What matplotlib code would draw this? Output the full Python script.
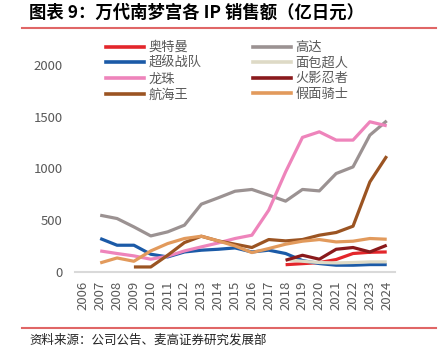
"""万代南梦宫各 IP 销售额"""
import numpy as np
import matplotlib
matplotlib.use("Agg")
import matplotlib.pyplot as plt
from matplotlib.lines import Line2D

plt.rcParams['font.family'] = ['Noto Sans CJK SC', 'DejaVu Sans']

years = list(range(2006, 2025))
nan = np.nan

ultraman = [nan]*12 + [70, 80, 90, 120, 178, 190, 193]
gundam = [nan, 548, 516, 435, 348, 387, 452, 655, 716, 780, 797, 742, 684, 797, 783, 951, 1015, 1322, 1460]
sentai = [nan, 323, 258, 258, 171, 145, 193, 210, 219, 232, 193, 210, 178, 110, 81, 65, 65, 71, 71]
anpanman = [nan]*12 + [120, 103, 91, 87, 91, 97, 97]
dragonball = [nan, 203, 178, 155, 123, 152, 203, 242, 280, 323, 355, 597, 967, 1300, 1354, 1274, 1274, 1451, 1412]
naruto = [nan]*12 + [113, 161, 123, 219, 236, 193, 258]
onepiece = [nan, nan, nan, 48, 48, 161, 284, 345, 300, 268, 236, 313, 300, 313, 355, 381, 442, 870, 1119]
kamenrider = [nan, 87, 135, 103, 203, 274, 323, 345, 300, 251, 187, 226, 268, 297, 313, 290, 297, 323, 316]

series = [
    ("奥特曼", ultraman, "#e3262b"),
    ("高达", gundam, "#9b9292"),
    ("超级战队", sentai, "#1b5aa7"),
    ("面包超人", anpanman, "#dedac6"),
    ("龙珠", dragonball, "#ee84bb"),
    ("火影忍者", naruto, "#8a1a1c"),
    ("航海王", onepiece, "#9b5422"),
    ("假面骑士", kamenrider, "#e29a5c"),
]

fig = plt.figure(figsize=(4.46, 3.55), dpi=100)
ax = fig.add_axes([0.168, 0.234, 0.718, 0.583])

x = np.arange(len(years))
handles = {}
for name, vals, color in series:
    ax.plot(x, vals, color=color, lw=2.3, solid_capstyle='butt')
    handles[name] = Line2D([], [], color=color, lw=2.6)

ax.set_xlim(-0.5, len(years) - 0.5)
ax.set_ylim(0, 2000)
ax.set_yticks([0, 500, 1000, 1500, 2000])
ax.set_xticks(x)
ax.set_xticklabels([str(y) for y in years], rotation=90)
ax.tick_params(axis='both', length=0, labelsize=9.5, labelcolor='#595959')
ax.tick_params(axis='y', pad=9)
ax.tick_params(axis='x', pad=6)
for side in ['top', 'right', 'left']:
    ax.spines[side].set_visible(False)
ax.spines['bottom'].set_color('#d9d9d9')
ax.spines['bottom'].set_linewidth(1.5)

order = ["奥特曼", "超级战队", "龙珠", "航海王", "高达", "面包超人", "火影忍者", "假面骑士"]
fig.legend([handles[n] for n in order], order, ncol=2, frameon=False,
           loc='upper left', bbox_to_anchor=(0.238, 0.884),
           fontsize=9.5, labelcolor='#595959', handlelength=2.9,
           handletextpad=0.3, columnspacing=3.9, labelspacing=0.2,
           borderaxespad=0, borderpad=0)

fig.text(0.065, 0.963, "图表 9：万代南梦宫各 IP 销售额（亿日元）",
         fontsize=12.5, fontweight='bold', va='center', ha='left')
fig.add_artist(Line2D([0.05, 0.978], [0.921, 0.921], color='#e06666', lw=1.5))
fig.add_artist(Line2D([0.05, 0.978], [0.075, 0.075], color='#e06666', lw=1.5))
fig.text(0.065, 0.042, "资料来源：公司公告、麦高证券研究发展部",
         fontsize=9, va='center', ha='left', color='#222222')

fig.savefig("out.png", dpi=100)
